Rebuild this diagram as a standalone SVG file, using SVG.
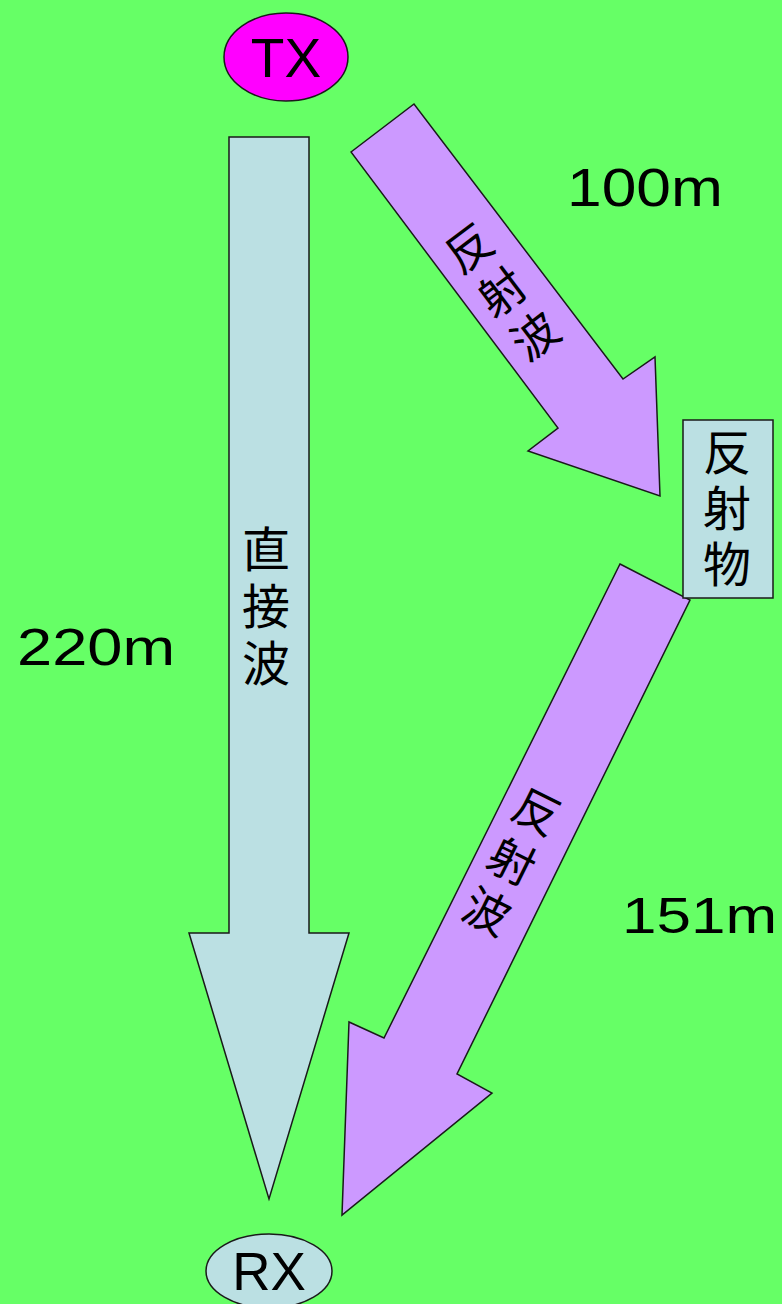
<svg xmlns="http://www.w3.org/2000/svg" width="782" height="1304" viewBox="0 0 782 1304">
<style>
.bg{fill:#66FF66}
.edge{stroke:#1a1a1a;stroke-width:1.5;stroke-linejoin:miter}
.blue{fill:#BBE0E3}
.purple{fill:#CC99FF}
.mag{fill:#FF00FF}
.lat{font-family:"Liberation Sans",Arial,sans-serif;fill:#000}
.jp{font-family:"Noto Sans CJK JP","Noto Sans CJK SC",sans-serif;fill:#000;text-anchor:middle;writing-mode:vertical-rl}
</style>
<rect class="bg" x="0" y="0" width="782" height="1304"/>
<g id="connectors">
  <g id="direct-wave">
    <polygon class="blue edge" points="229,137 309,137 309,933 349,933 269,1199 189,933 229,933"/>
    <text class="jp" x="266" y="610" font-size="48" letter-spacing="9">直接波</text>
  </g>
  <g id="reflected-wave-1">
    <polygon class="purple edge" points="351,152 414,104 623,379 655,357 660,496 528,451 558,428"/>
    <text class="jp" font-size="46" letter-spacing="9" transform="translate(502,292) rotate(-37)" x="0" y="4">反射波</text>
  </g>
  <g id="reflected-wave-2">
    <polygon class="purple edge" points="620,564 690,600 457,1074 492,1093 342,1215 349,1022 384,1038"/>
    <text class="jp" font-size="46" letter-spacing="10" transform="translate(512,861) rotate(26.4)" x="0" y="5">反射波</text>
  </g>
</g>
<g id="tx">
  <ellipse class="mag edge" cx="286" cy="57" rx="62" ry="44"/>
  <text class="lat" x="286" y="77" font-size="55" text-anchor="middle">TX</text>
</g>
<g id="rx">
  <ellipse class="blue edge" cx="269" cy="1271" rx="63" ry="37"/>
  <text class="lat" x="269" y="1290" font-size="53" text-anchor="middle">RX</text>
</g>
<g id="reflector">
  <rect class="blue edge" x="683" y="420" width="90" height="178"/>
  <text class="jp" x="727" y="512" font-size="48" letter-spacing="8">反射物</text>
</g>
<g id="labels">
  <text class="lat" font-size="52" transform="translate(17,665) scale(1.215,1)" x="0" y="0">220m</text>
  <text class="lat" font-size="53" transform="translate(567,206) scale(1.176,1)" x="0" y="0">100m</text>
  <text class="lat" font-size="50" transform="translate(622,933) scale(1.24,1)" x="0" y="0">151m</text>
</g>
</svg>
